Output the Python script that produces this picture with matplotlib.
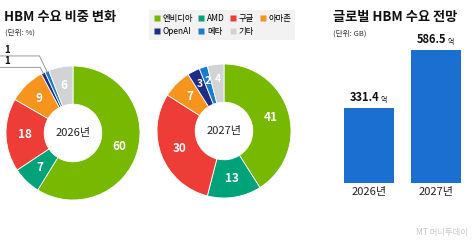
import numpy as np
import matplotlib
matplotlib.use("Agg")
import matplotlib.pyplot as plt
from matplotlib.lines import Line2D

plt.rcParams['font.family'] = ['Noto Sans CJK KR', 'DejaVu Sans']

# data
companies = ['엔비디아', 'AMD', '구글', '아마존', 'OpenAI', '메타', '기타']
colors = ['#76B900', '#00A27A', '#EE3D36', '#F7941E', '#1E2D86', '#1B7BD3', '#D1D3D4']
share_2026 = [60, 7, 18, 9, 1, 1, 6]
share_2027 = [41, 13, 30, 7, 3, 2, 4]
years = ['2026년', '2027년']
demand = [331.4, 586.5]
demand_labels = ['331.4', '586.5']

W, H = 473, 240
fig = plt.figure(figsize=(W / 100, H / 100), dpi=100)


def px_axes(x0, y0, x1, y1):
    # pixel box (top-left origin) -> axes
    return fig.add_axes([x0 / W, 1 - y1 / H, (x1 - x0) / W, (y1 - y0) / H])


def donut(ax, vals, year):
    ax.pie(vals, colors=colors, startangle=90, counterclock=False,
           radius=1, wedgeprops=dict(width=0.57, edgecolor='white', linewidth=0.6))
    ax.set_xlim(-1, 1)
    ax.set_ylim(-1, 1)
    ax.set_aspect('equal')
    ax.axis('off')
    total = sum(vals)
    cum = 0
    mids = []
    for v in vals:
        ang = np.deg2rad(90 - 360 * (cum + v / 2) / total)
        mids.append(ang)
        cum += v
    ax.text(0, 0, year, ha='center', va='center', fontsize=8, color='#222222')
    return mids


ax1 = px_axes(6, 66, 140, 200)
mids1 = donut(ax1, share_2026, years[0])
ax2 = px_axes(157, 64, 291, 198)
mids2 = donut(ax2, share_2027, years[1])

# slice labels
for ax, vals, mids in [(ax1, share_2026, mids1), (ax2, share_2027, mids2)]:
    for v, a in zip(vals, mids):
        if v < 2:
            continue
        r = 0.72 if v >= 5 else 0.78
        ax.text(r * np.cos(a), r * np.sin(a), str(v), ha='center', va='center',
                fontsize=8.5 if v >= 5 else 7.5, color='white', fontweight='bold')

# callouts for the 1% slices in 2026
for idx, ly, ex_x in [(5, 1.15, -0.50), (4, 0.98, -0.49)]:
    a = mids1[idx]
    ex, ey = np.cos(a), np.sin(a)
    ax1.add_line(Line2D([-1.10, ex_x, ex * 0.98], [ly, ly, ey * 0.98],
                        color='#8A8A8A', lw=0.6, clip_on=False))
    ax1.text(-1.02, ly + 0.02, str(share_2026[idx]), ha='left', va='bottom', fontsize=7,
             fontweight='bold', color='#111111', clip_on=False)

# titles
fig.text(4 / W, 1 - 17 / H, 'HBM 수요 비중 변화', fontsize=9.5, fontweight='bold',
         va='center', ha='left', color='#111111')
fig.text(5 / W, 1 - 33 / H, '(단위: %)', fontsize=5.5, va='center', ha='left', color='#333333')
fig.text(333 / W, 1 - 17 / H, '글로벌 HBM 수요 전망', fontsize=9.5, fontweight='bold',
         va='center', ha='left', color='#111111')
fig.text(333 / W, 1 - 34 / H, '(단위: GB)', fontsize=5.5, va='center', ha='left', color='#333333')

# legend
order = [0, 4, 1, 5, 2, 6, 3]
handles = [Line2D([], [], marker='s', linestyle='none', markersize=4.5,
                  markerfacecolor=colors[i], markeredgecolor='none') for i in order]
leg = fig.legend(handles, [companies[i] for i in order], ncol=4,
                 loc='upper left', bbox_to_anchor=(149 / W, 1 - 10 / H),
                 frameon=True, fontsize=6, handlelength=0.8, handletextpad=0.3,
                 columnspacing=0.6, labelspacing=0.45, borderpad=0.5, borderaxespad=0)
leg.get_frame().set_facecolor('#EFEFEF')
leg.get_frame().set_edgecolor('none')
leg.get_frame().set_boxstyle('square', pad=0)

# bars
axb = px_axes(320, 30, 473, 183)
x = np.arange(len(years))
axb.bar(x, demand, width=0.75, color='#1A6FD1')
axb.set_xlim(-0.73, 1.55)
axb.set_ylim(0, 675)
for s in axb.spines.values():
    s.set_visible(False)
axb.set_yticks([])
axb.set_xticks(x)
axb.set_xticklabels(years, fontsize=8, color='#222222')
axb.tick_params(axis='x', length=0, pad=3)
axb.patch.set_alpha(0)

fig.canvas.draw()
renderer = fig.canvas.get_renderer()
for xi, v, lab in zip(x, demand, demand_labels):
    t = axb.annotate(lab, xy=(xi, v), xytext=(-3, 3), textcoords='offset points',
                     ha='center', va='bottom', fontsize=8, fontweight='bold', color='#111111',
                     annotation_clip=False)
    bb = t.get_window_extent(renderer)
    fig.text(bb.x1 / W + 0.002, bb.y0 / H, '억', fontsize=5, va='bottom', ha='left', color='#111111')

# watermark
fig.text(468 / W, 1 - 232 / H, 'MT 머니투데이', fontsize=6, ha='right', va='center', color='#C8C8C8')

fig.savefig('out.png', dpi=100)
